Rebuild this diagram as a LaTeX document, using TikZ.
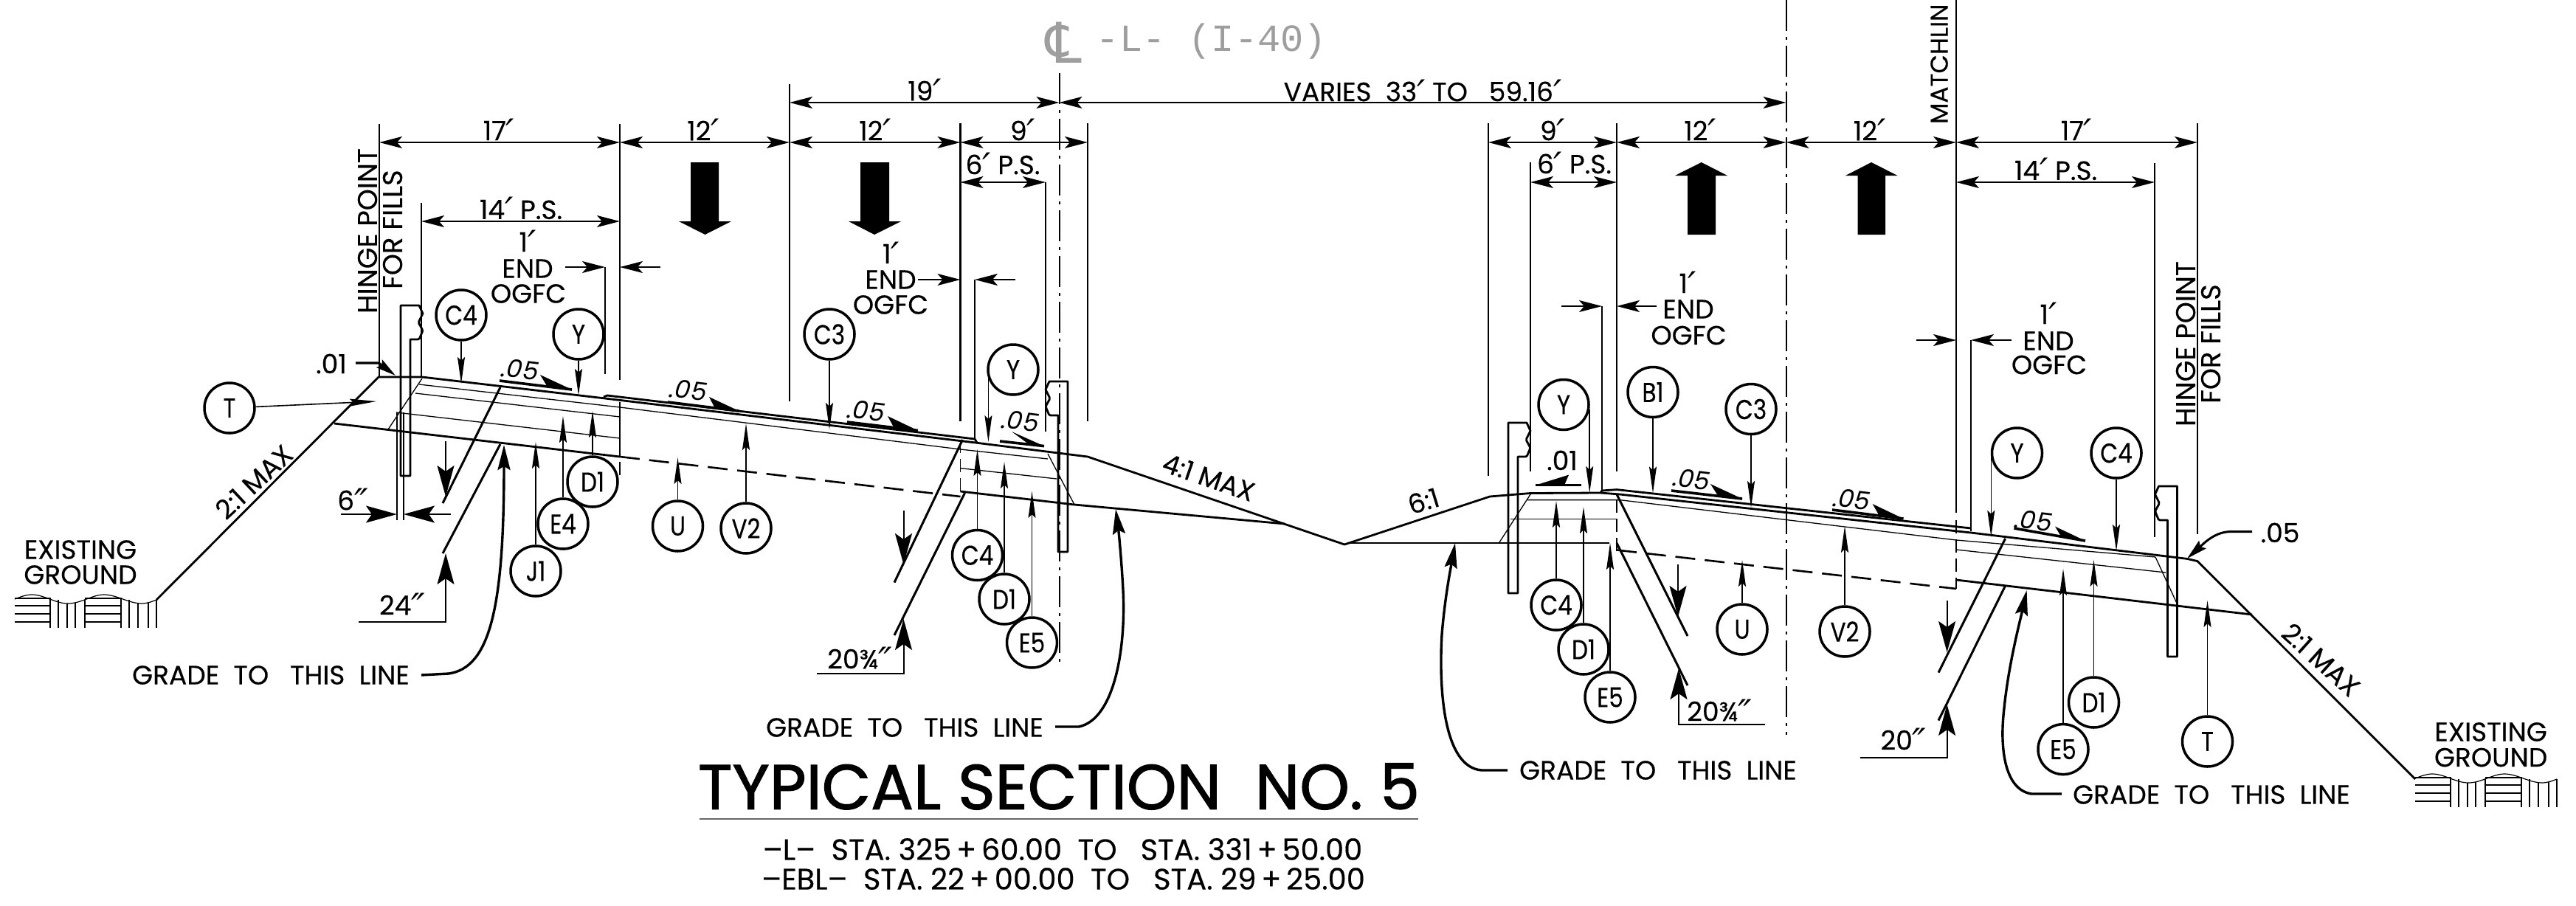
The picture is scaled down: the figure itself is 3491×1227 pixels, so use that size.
\documentclass[tikz,border=0pt]{standalone}
\usepackage{fontspec}
\setmainfont{Poppins}[FakeBold=0.35]
\newfontfamily\titlefont{Poppins}[FakeBold=1.4]
\newfontfamily\plainfont{Poppins}
\newfontfamily\primefont{DejaVu Sans}
\newfontfamily\cadfont{Liberation Mono}
\newfontfamily\narrowfont{Poppins}[FakeStretch=0.84,FakeBold=0.35]
\usetikzlibrary{arrows.meta,calc}
\newcommand\fs[1]{\fontsize{#1}{#1}\selectfont}
\newcommand\ft{\smash{\raisebox{-7pt}{\primefont\itshape\fs{50}\char"2032}}}
\newcommand\inch{\smash{\raisebox{-7pt}{\primefont\itshape\fs{50}\char"2033}}}
\tikzset{
  lbl/.style={inner sep=0pt,outer sep=0pt,font=\fs{36}},
  bub/.style={circle,draw,line width=3.5pt,minimum size=68pt,inner sep=0pt,font=\narrowfont\fs{37}},
  ptr/.style={line width=1.6pt,-{Stealth[length=36pt,width=10pt,inset=5pt]}},
  dimn/.style={line width=1.8pt,{Stealth[length=31pt,width=16pt,inset=7pt]}-{Stealth[length=31pt,width=16pt,inset=7pt]}},
  oneway/.style={line width=1.8pt,-{Stealth[length=31pt,width=16pt,inset=7pt]}},
  bigarrow/.style={line width=2pt,-{Stealth[length=42pt,width=23pt,inset=8pt]}},
  gradeline/.style={line width=3.4pt,-{Stealth[length=34pt,width=17pt,inset=5pt]}},
  ext/.style={line width=2.2pt},
  road/.style={line width=2.8pt,line join=round},
  thin/.style={line width=1.3pt},
  slant/.style={line width=3pt},
  subdash/.style={line width=2.6pt,dash pattern=on 27pt off 13pt},
  vdash/.style={line width=1.8pt,dash pattern=on 18pt off 8pt},
  cline/.style={line width=2pt,dash pattern=on 42pt off 8pt on 4pt off 8pt},
  cadtext/.style={inner sep=0pt,text=black!38,font=\cadfont\fs{52}},
}
\newcommand\lab[4][]{\node[lbl,#1] (#2) at (#3) {#4};}
\newcommand\bubble[4]{\node[bub] (#1) at (#2) {#3};\coordinate (#1tip) at (#4);\draw[ptr] (#1) -- (#1tip);}
% slope mark: start, end, wedge back, text name, text position, text
\newcommand\slopemark[6]{\coordinate (sa) at (#1);\coordinate (sb) at (#2);
  \draw[line width=3.6pt] (sa) -- (sb);
  \fill (#3) -- (sb) -- ($(sa)!0.66!(sb)$) -- cycle;
  \node[lbl,rotate=-7,font=\plainfont\itshape\fs{34}] (#4) at (#5) {#6};}
% curb: x0, ytop, direction
\newcommand\curb[3]{\begin{scope}[shift={(#1,#2)},xscale=#3]
  \draw[line width=2.8pt,line join=round] (0,231) -- (0,0) -- (25,0) -- (30,11)[rounded corners=1.5pt] -- (24,23) -- (30,34) -- (25,46)[sharp corners] -- (13,46) -- (13,231) -- cycle;
  \end{scope}}
\newcommand\ground[2]{\begin{scope}[shift={(#1,#2)},line width=1.2pt]
  \draw (0,6) .. controls (8,3) and (15,0) .. (23,0) .. controls (40,0) and (55,12) .. (72,12)
     .. controls (90,12) and (105,0) .. (121,0) .. controls (138,0) and (155,12) .. (172,12) .. controls (180,12) and (187,9) .. (192,7);
  \foreach \yy in {5,15,26,37}{\draw (0,\yy) -- (48,\yy);\draw (95,\yy) -- (144,\yy);}
  \foreach \xx/\yt in {48/4,59/7,71/12,82/11,95/7,144/4,155/7,167/12,181/11,192/7}{\draw (\xx,\yt) -- (\xx,45);}
  \end{scope}}
\begin{document}
\begin{tikzpicture}[x=1pt,y=-1pt]
\useasboundingbox (0,0) rectangle (3491,1227);
% ---- road outline
\draw[road] (212,813) -- (513,511) -- (572,511) -- (820,540) -- (1322,600) -- (1474,619) -- (1822,738) -- (2019,673) -- (2074,668.5) -- (2169,668);
\draw[road] (2169,668) -- (2195,670) -- (2671,722) -- (2964,757.4) -- (2978,760.6) -- (3273,1056);
\draw[road] (818,538) -- (823,536) -- (1321,595) -- (1324,600);
\draw[road] (2169,668) -- (2171,665) -- (2191,663.6) -- (2671,716);
\draw[road] (453,574) -- (840,619);
\draw[road] (1301.5,666) -- (1456,684) -- (1741,710);
\draw[road] (1827.5,736) -- (2180.5,736);
\draw[road] (2651,786) -- (3052,833);
\draw[subdash] (840,619) -- (1301.5,673);
\draw[subdash] (2191,745.5) -- (2651,798);
% ---- thin layers
\draw[thin] (568,521) -- (840,552) -- (1301.5,609) -- (1420,622);
\draw[thin] (563,533) -- (840,565);
\draw[thin] (537,559) -- (840,594);
\draw[thin] (1301.5,634.6) -- (1432,649);
\draw[thin] (2070,677.6) -- (2195,677.6) -- (2651,732) -- (2921,755);
\draw[thin] (2047,703.6) -- (2191,703.6);
\draw[thin] (2651,745) -- (2935,776);
\draw[thin] (572,513) -- (526,582);
\draw[thin] (1420,615) -- (1456,684);
\draw[thin] (2075,668.5) -- (2032,735);
\draw[thin] (2921,755) -- (2952,822);
\draw[thin] (538,559) -- (538,705);
\draw[thin] (547,559) -- (547,705);
\draw[thin] (840,545) -- (840,600);
\draw[vdash] (840,600) -- (840,647);
\draw[vdash] (1301.5,596) -- (1301.5,673);
\draw[vdash] (2191,677) -- (2191,750);
\draw[vdash] (2651,705) -- (2651,798);
% ---- curbs
\curb{543}{414}{1}
\curb{1447}{517}{-1}
\curb{2044}{573}{1}
\curb{2950.5}{659}{-1}
% ---- extension lines
\draw[ext] (514,168) -- (514,511);
\draw[ext] (571,275) -- (571,511);
\draw[ext] (840,168) -- (840,515);
\draw[thin] (820,362) -- (820,507);
\draw[ext] (1070,113.5) -- (1070,544);
\draw[ext] (1301.5,167) -- (1301.5,571);
\draw[ext] (1474,167) -- (1474,571);
\draw[ext] (1417,247) -- (1417,585);
\draw[thin] (1321,379) -- (1321,596);
\draw[ext] (2017,167) -- (2017,645);
\draw[ext] (2074,220) -- (2074,639);
\draw[ext] (2191,167) -- (2191,639);
\draw[thin] (2171,415) -- (2171,664);
\draw[ext] (2651,0) -- (2651,695);
\draw[thin] (2671,461) -- (2671,720);
\draw[ext] (2920,221) -- (2920,728);
\draw[ext] (2978,167) -- (2978,724);
% ---- centre lines
\draw[cline] (1435.5,99) -- (1435.5,899);
\draw[cline] (2420.5,0) -- (2420.5,996);
% ---- dimensions
\draw[dimn] (514,193) -- (840,193);
\draw[dimn] (571,300) -- (840,300);
\draw[dimn] (840,193) -- (1070,193);
\draw[dimn] (1070,193) -- (1301.5,193);
\draw[dimn] (1301.5,193) -- (1474,193);
\draw[dimn] (1070,139) -- (1435.5,139);
\draw[dimn] (1435.5,139) -- (2420.5,139);
\draw[dimn] (1301.5,247) -- (1417,247);
\draw[dimn] (2017,193) -- (2191,193);
\draw[dimn] (2074,247) -- (2191,247);
\draw[dimn] (2191,193) -- (2420.5,193);
\draw[dimn] (2420.5,193) -- (2651,193);
\draw[dimn] (2651,193) -- (2978,193);
\draw[dimn] (2651,247) -- (2920,247);
\draw[oneway] (766,362) -- (820,362);
\draw[oneway] (895,362) -- (840,362);
\draw[oneway] (1244,379) -- (1301.5,379);
\draw[oneway] (1376,379) -- (1321,379);
\draw[oneway] (2116,415) -- (2171,415);
\draw[oneway] (2245,415) -- (2191,415);
\draw[oneway] (2597,461) -- (2651,461);
\draw[oneway] (2726,461) -- (2671,461);
\draw[bigarrow] (462,697) -- (538,697);
\draw[bigarrow] (611,697) -- (547,697);
% ---- traffic arrows
\fill (936,220) -- (974,220) -- (974,300) -- (991,300) -- (955.5,318) -- (920,300) -- (936,300) -- cycle;
\fill (1166,220) -- (1205,220) -- (1205,300) -- (1221,300) -- (1185,318) -- (1150,300) -- (1166,300) -- cycle;
\fill (2287,318) -- (2325,318) -- (2325,238) -- (2341,238) -- (2305.7,220) -- (2270,238) -- (2287,238) -- cycle;
\fill (2517.5,318) -- (2555,318) -- (2555,238) -- (2571.5,238) -- (2536,220) -- (2501,238) -- (2517.5,238) -- cycle;
% ---- slants and their thickness dimensions
\draw[slant] (678,525) -- (600,682);
\draw[slant] (678,602) -- (600,750);
\draw[bigarrow] (604,598) -- (604,673);
\draw[bigarrow] (486,843) -- (604,843) -- (604,750);
\draw[slant] (1304.5,596) -- (1212,789.5);
\draw[slant] (1307.6,668) -- (1212,861);
\draw[bigarrow] (1224.5,692) -- (1224.5,765);
\draw[bigarrow] (1107,913) -- (1224.5,913) -- (1224.5,839);
\draw[slant] (2191,670) -- (2287,862);
\draw[slant] (2191,736) -- (2287,929);
\draw[bigarrow] (2274,765) -- (2274,836);
\draw[bigarrow] (2392,982) -- (2275,982) -- (2275,906);
\draw[slant] (2717.6,730) -- (2627,911.6);
\draw[slant] (2717.6,794) -- (2627,976.5);
\draw[bigarrow] (2638.6,814) -- (2638.6,884);
\draw[bigarrow] (2521,1027) -- (2638.6,1027) -- (2638.6,955);
% ---- bubbles
\bubble{Ta}{311,553}{T}{510,544}
\bubble{Ca}{625,427}{C4}{625,520}
\bubble{Ya}{784,453}{Y}{784,536}
\bubble{Da}{803,653}{D1}{803,557}
\bubble{Ea}{763,710}{E4}{763,564}
\bubble{Ja}{726,774}{J1}{726,599}
\bubble{Ua}{918.5,713}{U}{918.5,620}
\bubble{Va}{1011,716}{V2}{1011,574}
\bubble{Cb}{1124,453}{C3}{1124,582}
\bubble{Cc}{1324.5,752.5}{C4}{1324.5,609}
\bubble{Db}{1361,812}{D1}{1361,626}
\bubble{Eb}{1398.5,871}{E5}{1398.5,666}
\node[bub] (Yb) at (1373,501) {Y};\coordinate (Ybtip) at (1341,599);\draw[ptr] (Yb.200) -- (Yb.200 |- Ybtip);
\node[bub] (Yc) at (2119,548.5) {Y};\coordinate (Yctip) at (2152.4,668);\draw[ptr] (Yc.-10) -- (Yc.-10 |- Yctip);
\bubble{Ba}{2240,531.5}{B1}{2240,668.5}
\bubble{Cd}{2373,554.5}{C3}{2373,688}
\bubble{Ce}{2109,820}{C4}{2109,679}
\bubble{Dc}{2146,880}{D1}{2146,687}
\bubble{Ec}{2182,945}{E5}{2182,736}
\bubble{Ub}{2361,853}{U}{2361,759}
\bubble{Vb}{2500,856}{V2}{2500,713}
\node[bub] (Yd) at (2733.5,614) {Y};\coordinate (Ydtip) at (2700.6,727.7);\draw[ptr] (Yd.190) -- (Yd.190 |- Ydtip);
\bubble{Cf}{2868,614}{C4}{2868,747}
\bubble{Ed}{2796,1015.6}{E5}{2796,771}
\bubble{Dd}{2837.5,952}{D1}{2837.5,759}
\bubble{Tb}{2991.5,1005}{T}{2991.5,814}
% ---- slope marks
\slopemark{677,516}{775,528}{732,508}{sa1}{705,501}{.05}
\slopemark{905,545}{1001.5,557}{961,538}{sa2}{933,529}{.05}
\slopemark{1148,572}{1244,583.5}{1203,564}{sa3}{1174,557}{.05}
\slopemark{1355,598}{1415,604.6}{1371,585}{sa4}{1383,571}{.05}
\slopemark{2265,665}{2361,676}{2318,656}{sa5}{2292.5,649.5}{.05}
\slopemark{2483,691}{2579.5,703}{2537.6,683}{sa6}{2509.5,677}{.05}
\slopemark{2729.5,716}{2826,733}{2785,713.6}{sa7}{2756,706}{.05}
\draw[line width=3.6pt] (2081,657.6) -- (2143,657.6);
\fill (2126,643.6) -- (2081,657.6) -- (2120,657.6) -- cycle;
\lab{sb1}{2117,624}{.01}
\lab{sb2}{449,493}{.01}
\draw[line width=3.4pt,-{Stealth[length=27pt,width=13pt,inset=4pt]}] (482,492) -- (513,492) -- (536,509);
\lab{sb3}{3090,722}{.05}
\draw[line width=3pt,-{Stealth[length=28pt,width=14pt,inset=4pt]}] (3052,720.7) -- (3020,720.7) .. controls (3000,722) and (2985,738) .. (2964,757);
% ---- dimension texts
\lab{d1}{676,177}{17\ft}
\lab{d2}{706,284}{14\ft\ P.S.}
\lab{d3}{953,177}{12\ft}
\lab{d4}{1186,177}{12\ft}
\lab{d5}{1386,177}{9\ft}
\lab{d6}{1253,123}{19\ft}
\lab{d7}{1359,223}{6\ft\ P.S.}
\lab{d8}{1928,124}{VARIES~~33\ft\ TO~~~59.16\ft}
\lab{d9}{2104,177}{9\ft}
\lab{d10}{2133.5,222}{6\ft\ P.S.}
\lab{d11}{2304,177}{12\ft}
\lab{d12}{2533.6,177}{12\ft}
\lab{d13}{2814,177}{17\ft}
\lab{d14}{2786,231}{14\ft\ P.S.}
\lab{e1}{478,678}{6\inch}
\lab{e2}{545,820}{24\inch}
\lab{e3}{1165,893}{20¾\inch}
\lab{e4}{2330,964}{20¾\inch}
\lab{e5}{2579.5,1003}{20\inch}
% ---- OGFC notes
\lab{o1a}{715,328}{1\ft}\lab{o1b}{715,364}{END}\lab{o1c}{716,398}{OGFC}
\lab{o2a}{1207.5,344}{1\ft}\lab{o2b}{1207,379}{END}\lab{o2c}{1207,413}{OGFC}
\lab{o3a}{2287,384}{1\ft}\lab{o3b}{2288,419}{END}\lab{o3c}{2288.5,454.5}{OGFC}
\lab{o4a}{2776,426}{1\ft}\lab{o4b}{2776,462}{END}\lab{o4c}{2777,494.5}{OGFC}
% ---- hinge notes
\lab[rotate=90,font=\fs{37}]{h1}{498,313}{HINGE~POINT}
\lab[rotate=90,font=\fs{37}]{h2}{532,311}{FOR~FILLS}
\lab[rotate=90,font=\fs{37}]{h3}{2962,466}{HINGE~POINT}
\lab[rotate=90,font=\fs{37}]{h4}{2996,466}{FOR~FILLS}
\lab[rotate=90,anchor=west,font=\fs{33}]{mat}{2628,168}{MATCHLIN}
% ---- slopes text
\lab[rotate=43]{s1}{344,653}{2:1 MAX}
\lab[rotate=-19]{s2}{1638,647}{4:1 MAX}
\lab[rotate=17]{s3}{1929,679}{6:1}
\lab[rotate=-42]{s4}{3145.5,894}{2:1 MAX}
% ---- existing ground
\lab{g1a}{109,745}{EXISTING}\lab{g1b}{109,779}{GROUND}
\lab{g2a}{3375.6,992}{EXISTING}\lab{g2b}{3375.6,1026.6}{GROUND}
\ground{20}{806}
\ground{3273}{1049}
% ---- grade notes
\lab{gr1}{367,915}{GRADE~~TO~~~THIS~~LINE}
\lab{gr2}{1226,986}{GRADE~~TO~~~THIS~~LINE}
\lab{gr3}{2247,1044}{GRADE~~TO~~~THIS~~LINE}
\lab{gr4}{2997,1077}{GRADE~~TO~~~THIS~~LINE}
\coordinate (gr1x) at (571,915);\coordinate (gr2x) at (1430,985);\coordinate (gr3x) at (2043,1044);\coordinate (gr4x) at (2794,1076);
\draw[gradeline] (gr1x) -- (608,913) .. controls (665,905) and (683,820) .. (683,603);
\draw[gradeline] (gr2x) -- (1462,985) .. controls (1510,975) and (1526,880) .. (1522,800) .. controls (1520,760) and (1516,720) .. (1512,690);
\draw[gradeline] (gr3x) -- (2008,1044) .. controls (1955,1040) and (1950,930) .. (1954,860) .. controls (1958,810) and (1966,770) .. (1972,736);
\draw[gradeline] (gr4x) -- (2753,1076) .. controls (2715,1070) and (2710,1010) .. (2716,960) .. controls (2722,900) and (2738,840) .. (2746.6,800);
% ---- title
\node[lbl,font=\titlefont\fs{86}] (title) at (1435,1066) {TYPICAL SECTION~~NO. 5};
\draw[line width=2.4pt,black!60] (948,1110) -- (1922,1110);
\node[lbl,font=\fs{40}] (st1) at (1440,1151) {--L--~~STA. 325\,+\,60.00~~TO~~~STA. 331\,+\,50.00};
\node[lbl,font=\fs{40}] (st2) at (1441,1191) {--EBL--~~STA. 22\,+\,00.00~~TO~~~STA. 29\,+\,25.00};
% ---- centre line title
\node[inner sep=0pt,text=black!38,font=\primefont\fs{76}] (cl) at (1442,58) {\char"2104};
\node[cadtext] (cltext) at (1642,56) {-L- (I-40)};
\end{tikzpicture}
\end{document}
